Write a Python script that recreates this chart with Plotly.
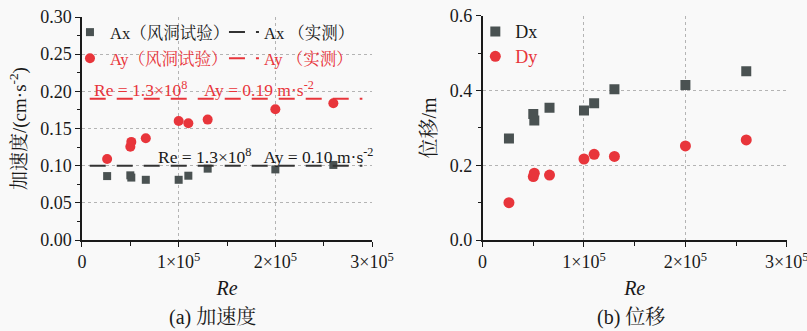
import plotly.graph_objects as go

# Reynolds numbers of the wind-tunnel runs
re_tunnel = [26000, 50000, 51000, 66000, 100000, 110000, 130000, 200000, 260000]

# Peak accelerations from the wind-tunnel tests (m/s^2)
ax_tunnel = [0.086, 0.087, 0.084, 0.081, 0.081, 0.0865, 0.096, 0.095, 0.101]
ay_tunnel = [0.109, 0.1255, 0.132, 0.137, 0.160, 0.157, 0.162, 0.176, 0.184]

# Field-measured accelerations at Re = 1.3e8
ax_measured = 0.10
ay_measured = 0.19
measured_span = [8000, 290000]

# Displacements from the wind-tunnel tests (m)
dx_tunnel = [0.272, 0.3375, 0.320, 0.354, 0.347, 0.366, 0.404, 0.415, 0.452]
dy_tunnel = [0.100, 0.170, 0.179, 0.174, 0.217, 0.2295, 0.224, 0.252, 0.268]

x_tickvals = [0, 100000, 200000, 300000]
x_ticktext = ["0", "1×10<sup>5</sup>", "2×10<sup>5</sup>", "3×10<sup>5</sup>"]

FONT = "Liberation Serif, Noto Serif CJK SC, Noto Sans CJK SC, serif"
BLACK = "#1a1a1a"
GREY = "#4a5252"
RED = "#e8353b"
BG = "#f9f9f9"
DASH = "16px,11px"

fig = go.Figure()

# (a) accelerations
fig.add_trace(go.Scatter(
    x=re_tunnel, y=ax_tunnel, mode="markers", name="Ax（风洞试验）",
    marker=dict(symbol="square", size=8, color=GREY),
    xaxis="x", yaxis="y", legend="legend"))
fig.add_trace(go.Scatter(
    x=measured_span, y=[ax_measured] * 2, mode="lines", name="Ax （实测）",
    line=dict(color="#333333", width=2, dash=DASH),
    xaxis="x", yaxis="y", legend="legend"))
fig.add_trace(go.Scatter(
    x=re_tunnel, y=ay_tunnel, mode="markers", name="Ay（风洞试验）",
    marker=dict(symbol="circle", size=10, color=RED),
    xaxis="x", yaxis="y", legend="legend2"))
fig.add_trace(go.Scatter(
    x=measured_span, y=[ay_measured] * 2, mode="lines", name="Ay （实测）",
    line=dict(color=RED, width=2, dash=DASH),
    xaxis="x", yaxis="y", legend="legend2"))

# (b) displacements
fig.add_trace(go.Scatter(
    x=re_tunnel, y=dx_tunnel, mode="markers", name="Dx",
    marker=dict(symbol="square", size=10, color=GREY),
    xaxis="x2", yaxis="y2", legend="legend3"))
fig.add_trace(go.Scatter(
    x=re_tunnel, y=dy_tunnel, mode="markers", name="Dy",
    marker=dict(symbol="circle", size=11, color=RED),
    xaxis="x2", yaxis="y2", legend="legend4"))

axis_common = dict(
    automargin=False,
    showline=True, linecolor=BLACK, linewidth=1.5,
    ticks="outside", ticklen=5, tickwidth=1.2, tickcolor=BLACK,
    showgrid=True, gridcolor="#b4b4b4", griddash="dot", gridwidth=1,
    zeroline=False, tickfont=dict(family=FONT, size=18, color=BLACK),
)

x_common = dict(axis_common, range=[0, 300000], tickmode="array",
                tickvals=x_tickvals, ticktext=x_ticktext,
                ticklabeloverflow="allow",
                minor=dict(dtick=50000, ticks="outside", ticklen=4,
                           tickcolor=BLACK, showgrid=False),
                title=dict(text="<i>Re</i>", standoff=10,
                           font=dict(family=FONT, size=20, color=BLACK)))

fig.update_layout(
    width=807, height=331,
    margin=dict(l=0, r=0, t=0, b=0),
    paper_bgcolor=BG, plot_bgcolor=BG,
    font=dict(family=FONT, color=BLACK),
    xaxis=dict(x_common, domain=[0.1016, 0.461], anchor="y"),
    yaxis=dict(axis_common, domain=[0.2749, 0.9486], anchor="x",
               range=[0, 0.30], dtick=0.05, tickformat=".2f",
               minor=dict(dtick=0.025, ticks="outside", ticklen=3,
                          tickcolor=BLACK, showgrid=False),
               title=dict(text="加速度/(cm·s<sup>-2</sup>)", standoff=8,
                          font=dict(family=FONT, size=19, color=BLACK))),
    xaxis2=dict(x_common, domain=[0.598, 0.975], anchor="y2"),
    yaxis2=dict(axis_common, domain=[0.2749, 0.9517], anchor="x2",
                range=[0, 0.6], dtick=0.2, tickformat=".1f",
                minor=dict(dtick=0.1, ticks="outside", ticklen=3,
                           tickcolor=BLACK, showgrid=False),
                title=dict(text="位移/m", standoff=8,
                           font=dict(family=FONT, size=20, color=BLACK))),
    legend=dict(orientation="h", x=0.0867, y=0.955, xanchor="left", yanchor="top",
                bgcolor="rgba(0,0,0,0)", font=dict(family=FONT, size=16.5, color=BLACK),
                entrywidth=109, tracegroupgap=0),
    legend2=dict(orientation="h", x=0.0867, y=0.876, xanchor="left", yanchor="top",
                 bgcolor="rgba(0,0,0,0)", font=dict(family=FONT, size=16.5, color=RED),
                 entrywidth=109, tracegroupgap=0),
    legend3=dict(x=0.589, y=0.960, xanchor="left", yanchor="top",
                 bgcolor="rgba(0,0,0,0)", font=dict(family=FONT, size=18, color=BLACK)),
    legend4=dict(x=0.589, y=0.885, xanchor="left", yanchor="top",
                 bgcolor="rgba(0,0,0,0)", font=dict(family=FONT, size=18, color=RED)),
    showlegend=True,
)

# Measured-value labels above the reference lines
fig.add_annotation(
    x=10000, y=ay_measured, xref="x", yref="y", xanchor="left", yanchor="bottom",
    text=f"Re = 1.3×10<sup>8</sup>    Ay = {ay_measured:.2f} m·s<sup>-2</sup>",
    showarrow=False, yshift=-3, font=dict(family=FONT, size=17.5, color=RED))
fig.add_annotation(
    x=77000, y=ax_measured, xref="x", yref="y", xanchor="left", yanchor="bottom",
    text=f"Re = 1.3×10<sup>8</sup>   Ay = {ax_measured:.2f} m·s<sup>-2</sup>",
    showarrow=False, yshift=-3, font=dict(family=FONT, size=17.5, color=BLACK))

# Panel captions
fig.add_annotation(x=0.263, y=0.042, xref="paper", yref="paper", showarrow=False,
                   xanchor="center", yanchor="middle",
                   text="(a) 加速度", font=dict(family=FONT, size=20, color=BLACK))
fig.add_annotation(x=0.782, y=0.042, xref="paper", yref="paper", showarrow=False,
                   xanchor="center", yanchor="middle",
                   text="(b) 位移", font=dict(family=FONT, size=20, color=BLACK))

fig.write_html("out.html")
